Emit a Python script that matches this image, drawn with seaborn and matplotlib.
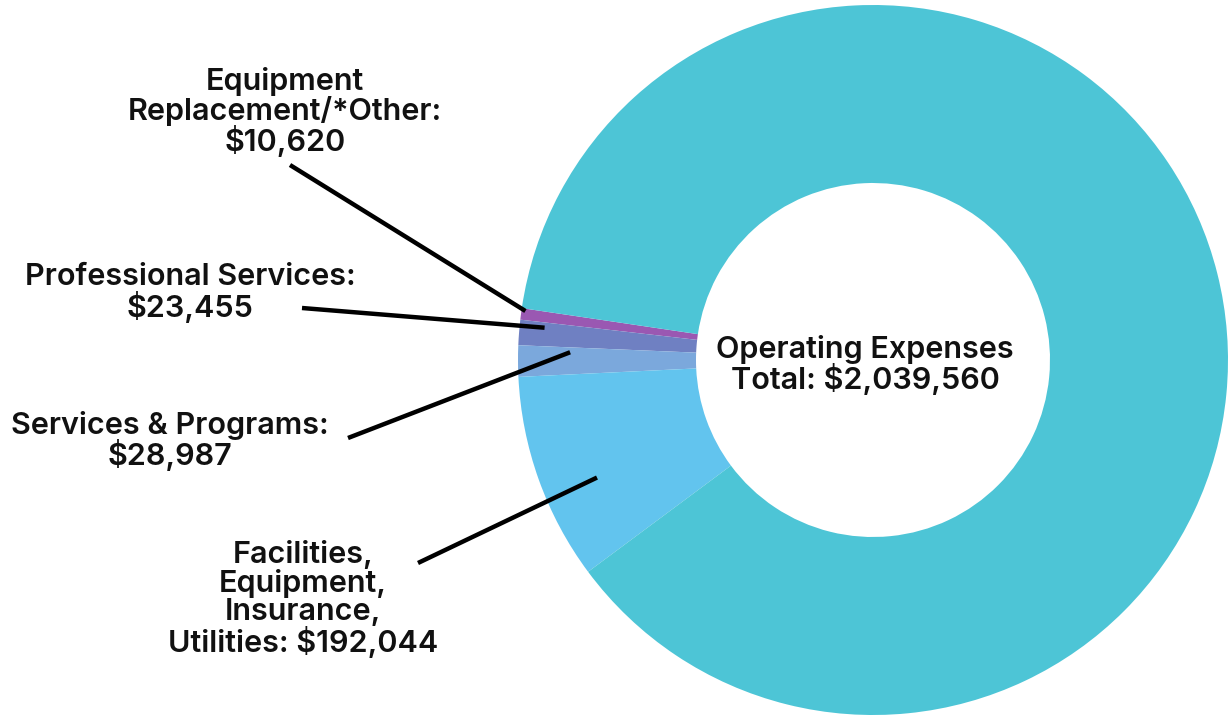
import numpy as np
import matplotlib
matplotlib.use("Agg")
import matplotlib.pyplot as plt
import seaborn as sns

# ---- data ----
categories = [
    "Equipment Replacement/*Other",
    "Professional Services",
    "Services & Programs",
    "Facilities, Equipment, Insurance, Utilities",
    "Other Operating",
]
values = [10620, 23455, 28987, 192044, 1784454]
total_label = "Operating Expenses\nTotal: $2,039,560"
label_texts = [
    "Equipment\nReplacement/*Other:\n$10,620",
    "Professional Services:\n$23,455",
    "Services & Programs:\n$28,987",
    "Facilities,\nEquipment,\nInsurance,\nUtilities: $192,044",
]
colors = ["#9A58B2", "#6F80C2", "#7BA8DC", "#62C4EE", "#4DC5D6"]

# ---- layout ----
W, H = 1230, 715
cx, cy = 873, H - 360
R_out, R_in = 355, 177
start_angle = 171.6
label_pos = [(285, H - 112), (190, H - 293), (170, H - 441), (303, H - 599)]
line_start = [(290, H - 165), (302, H - 308), (348, H - 438), (418, H - 563)]
end_frac = [0.2, 0.22, 0.18, 0.6]
end_r = [351, 330, 303, 300]
FS = 22
LS = 0.99

sns.set_theme(style="white")
plt.rcParams["font.family"] = ["Inter", "DejaVu Sans"]

fig = plt.figure(figsize=(W / 100, H / 100), dpi=100)
ax = fig.add_axes([0, 0, 1, 1])
wedges, _ = ax.pie(values, colors=colors, startangle=start_angle, counterclock=True,
                   radius=R_out, center=(cx, cy),
                   wedgeprops=dict(width=R_out - R_in, linewidth=0))
ax.set_xlim(0, W)
ax.set_ylim(0, H)
ax.set_aspect("equal")
ax.axis("off")

for i, txt in enumerate(label_texts):
    w = wedges[i]
    ang = np.deg2rad(w.theta1 + end_frac[i] * (w.theta2 - w.theta1))
    ex, ey = cx + end_r[i] * np.cos(ang), cy + end_r[i] * np.sin(ang)
    sx, sy = line_start[i]
    ax.plot([sx, ex], [sy, ey], color="black", lw=3.2, solid_capstyle="butt")
    ax.text(label_pos[i][0], label_pos[i][1], txt, ha="center", va="center",
            fontsize=FS, fontweight="semibold", color="#111111", linespacing=LS)

ax.text(865, H - 365, total_label, ha="center", va="center", fontsize=FS,
        fontweight="semibold", color="#111111", linespacing=LS)

fig.savefig("out.png", dpi=100)
